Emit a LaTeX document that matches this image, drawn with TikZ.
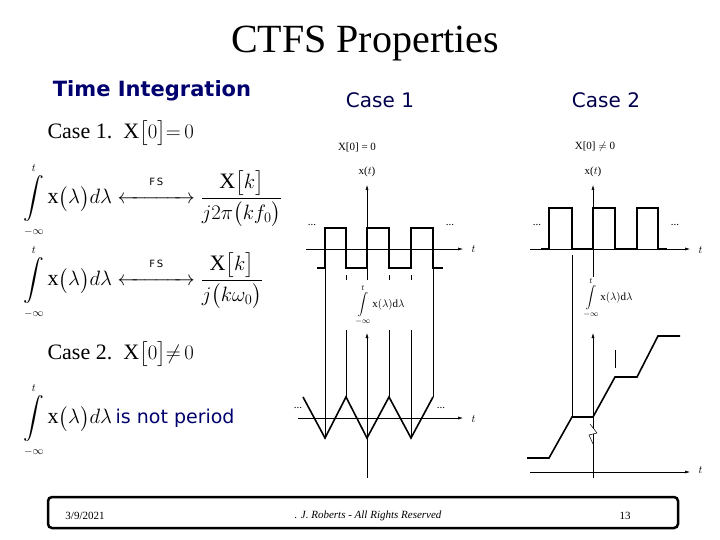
\documentclass[tikz,border=0pt]{standalone}
\usepackage{mathtools}
\usepackage{fontspec}
\setmainfont{Liberation Serif}
\setsansfont{DejaVu Sans}
\usetikzlibrary{arrows.meta}
\definecolor{navy}{RGB}{0,0,110}
\newcommand{\fsarrow}{\mathrel{\overset{\textsf{\fontsize{10}{10}\selectfont F\,S}}{\xleftrightarrow{\hspace{3em}}}}}
\newcommand{\myint}{\mathop{\displaystyle\int}\limits_{\scriptscriptstyle-\infty}^{\scriptscriptstyle t}}
\begin{document}
\begin{tikzpicture}[x=1pt,y=-1pt,
  sig/.style={line width=1.6pt},
  ax/.style={line width=0.5pt,-{Latex[length=5pt,width=3pt]}},
  thin/.style={line width=0.5pt},
  lbl/.style={font=\fontsize{11}{12}\selectfont},
  hdr/.style={font=\sffamily\fontsize{20}{22}\selectfont,text=navy!70!black},
  eq/.style={font=\fontsize{22}{24}\selectfont,anchor=west}]
\useasboundingbox (0,0) rectangle (720,540);
\node (title) at (365,44) {\fontsize{40}{44}\selectfont CTFS Properties};
\node[hdr,font=\sffamily\bfseries\fontsize{21}{24}\selectfont,text=navy] (ti) at (152,91) {Time Integration};
\node[hdr] (c1) at (380,100) {Case 1};
\node[hdr] (c2) at (606,100) {Case 2};
% left formulas
\node[eq] (k1) at (44,133) {Case 1.\ \ $\mathrm{X}\big[0\big]{=}\,0$};
\node[eq] (f1) at (20,200) {$\myint\mathrm{x}\big(\lambda\big)d\lambda\fsarrow\dfrac{\mathrm{X}\big[k\big]}{j2\pi\big(kf_0\big)}$};
\node[eq] (f2) at (20,282) {$\myint\mathrm{x}\big(\lambda\big)d\lambda\fsarrow\dfrac{\mathrm{X}\big[k\big]}{j\big(k\omega_0\big)}$};
\node[eq] (k2) at (44,354) {Case 2.\ \ $\mathrm{X}\big[0\big]{\neq}\,0$};
\node[eq] (f3) at (20,420) {$\myint\mathrm{x}\big(\lambda\big)d\lambda$\,{\sffamily\fontsize{19}{20}\selectfont\color{navy}is not period}};
% Case 1 plots
\node[lbl] (h1) at (357,147) {X[0] = 0};
\node[lbl] (xt1) at (367,172) {x($t$)};
\coordinate (a1b) at (367,280); \coordinate (a1t) at (367,185);
\draw[ax] (a1b) -- (a1t);
\coordinate (x1l) at (306,249); \coordinate (x1r) at (463,249);
\draw[ax] (x1l) -- (x1r);
\node[lbl,anchor=west] (t1) at (468,249) {$t$};
\draw[sig] (317,268) -- (325,268) -- (325,228) -- (346,228) -- (346,268) -- (367,268) -- (367,228) -- (389,228) -- (389,268) -- (411,268) -- (411,228) -- (433,228) -- (433,268) -- (443,268);
\node[lbl] (d1) at (312,225) {...};
\node[lbl] (d2) at (450,225) {...};
\foreach \x in {346,389,411} \draw[thin] (\x,275) -- (\x,280);
\node[lbl,fill=white,inner sep=0pt] (i1) at (380,305) {$\mathop{\displaystyle\int}\limits_{-\infty}^{t}\mathrm{x}(\lambda)\mathrm{d}\lambda$};
\draw[ax] (367,478) -- (367,333);
\draw[ax] (298,418) -- (463,418);
\node[lbl,anchor=west] (t2) at (468,419) {$t$};
\draw[sig] (303,397) -- (325,438) -- (346,397) -- (367,438) -- (389,397) -- (411,438) -- (433,397);
\node[lbl] (d3) at (298,408) {...};
\node[lbl] (d4) at (441,408) {...};
\draw[thin] (325,268) -- (325,438);
\draw[thin] (433,268) -- (433,397);
\draw[thin] (346,330) -- (346,397);
\draw[thin] (389,330) -- (389,397);
\draw[thin] (411,330) -- (411,438);
% Case 2 plots
\node[lbl] (h2) at (595,147) {X[0] $\neq$ 0};
\node[lbl] (xt2) at (593,172) {x($t$)};
\draw[ax] (593,285) -- (593,185);
\draw[ax] (530,249) -- (690,249);
\node[lbl,anchor=west] (t3) at (695,250) {$t$};
\draw[sig] (541,249) -- (549,249) -- (549,208) -- (572,208) -- (572,249) -- (593,249) -- (593,208) -- (615,208) -- (615,249) -- (637,249) -- (637,208) -- (658,208) -- (658,249) -- (667,249);
\node[lbl] (d5) at (537,225) {...};
\node[lbl] (d6) at (675,225) {...};
\draw[thin] (572,255) -- (572,417);
\draw[thin] (615,350) -- (615,368);
\node[lbl,fill=white,inner sep=0pt] (i2) at (608,298) {$\mathop{\displaystyle\int}\limits_{-\infty}^{t}\mathrm{x}(\lambda)\mathrm{d}\lambda$};
\draw[ax] (593,478) -- (593,333);
\draw[ax] (530,472) -- (690,472);
\node[lbl,anchor=west] (t4) at (695,470) {$t$};
\draw[sig] (527,458) -- (549,458) -- (572,417) -- (593,417) -- (615,377) -- (637,377) -- (658,336) -- (680,336);
\draw[thin,fill=white] (590,424) -- (597,433) -- (589,435) -- (593,444);
% footer
\draw[line width=2.5pt,rounded corners=4pt] (48,497) rectangle (678,528);
\node[font=\fontsize{11}{12}\selectfont] (date) at (85,516) {3/9/2021};
\node[font=\itshape\fontsize{11}{12}\selectfont] (auth) at (368,516) {. J. Roberts - All Rights Reserved};
\node[font=\fontsize{11}{12}\selectfont] (pg) at (625,516) {13};
\end{tikzpicture}
\end{document}
